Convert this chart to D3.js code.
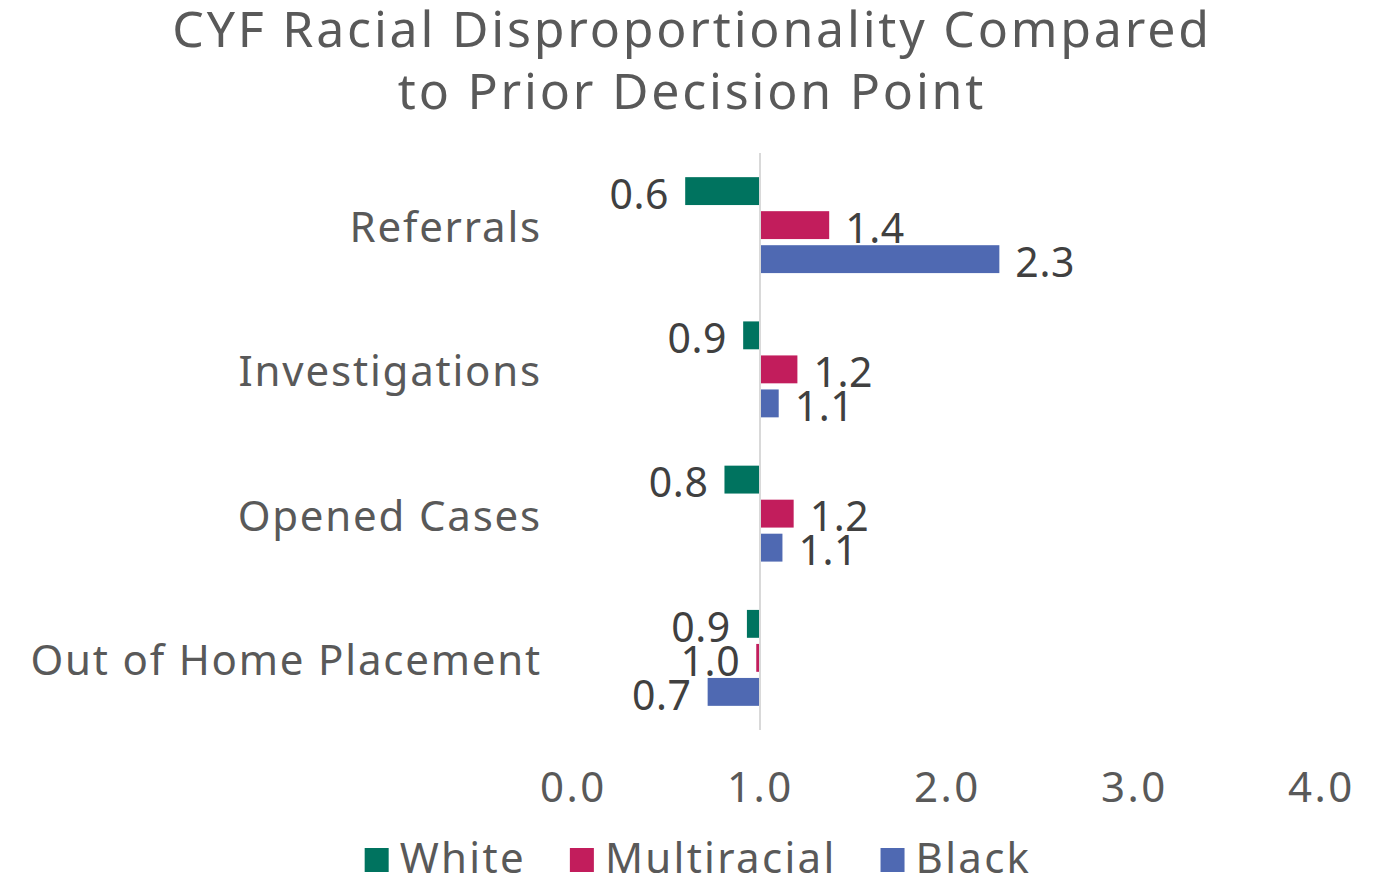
<!DOCTYPE html>
<html>
<head>
<meta charset="utf-8">
<script src="https://cdn.jsdelivr.net/npm/d3@7"></script>
<style>
  body { margin: 0; background: #fff; }
  text { font-family: "Noto Sans", sans-serif; }
</style>
</head>
<body>
<script>
const categories = ["Referrals", "Investigations", "Opened Cases", "Out of Home Placement"];
const series = ["White", "Multiracial", "Black"];
const white = [0.6, 0.91, 0.81, 0.93];
const multiracial = [1.37, 1.2, 1.18, 0.98];
const black = [2.28, 1.1, 1.12, 0.72];
const tickValues = [0, 1, 2, 3, 4];
const titleLines = ["CYF Racial Disproportionality Compared", "to Prior Decision Point"];
const colors = ["#00735f", "#c21d5c", "#4f69b2"];
const baseline = 1;

const width = 1383;
const height = 882;

const svg = d3
  .select("body")
  .append("svg")
  .attr("width", width)
  .attr("height", height);

const x = d3.scaleLinear().domain([0, 4]).range([573, 1321]);
const y0 = d3.scaleBand().domain(categories).range([153, 730]);
const y1 = d3
  .scaleBand()
  .domain(series)
  .range([0, y0.bandwidth()])
  .paddingInner(0.18)
  .paddingOuter(0.71);
const color = d3.scaleOrdinal().domain(series).range(colors);
const fmt = d3.format(".1f");

// title
svg
  .append("text")
  .attr("text-anchor", "middle")
  .attr("fill", "#595959")
  .attr("font-size", 50)
  .attr("letter-spacing", 2.8)
  .selectAll("tspan")
  .data(titleLines)
  .join("tspan")
  .attr("x", 692)
  .attr("y", (d, i) => 47 + i * 62)
  .text((d) => d);

// flatten rows
const rows = [];
categories.forEach((c, i) => {
  [white, multiracial, black].forEach((vals, j) => {
    rows.push({ cat: c, s: series[j], v: vals[i] });
  });
});

const groups = svg
  .append("g")
  .selectAll("g")
  .data(rows)
  .join("g")
  .attr("transform", (d) => `translate(0,${y0(d.cat) + y1(d.s)})`);

groups
  .append("rect")
  .attr("x", (d) => Math.min(x(baseline), x(d.v)))
  .attr("y", 0)
  .attr("width", (d) => Math.abs(x(d.v) - x(baseline)))
  .attr("height", y1.bandwidth())
  .attr("fill", (d) => color(d.s));

groups
  .append("text")
  .attr("x", (d) => (d.v < baseline ? x(d.v) - 16 : x(d.v) + 16))
  .attr("y", y1.bandwidth() / 2 + 3)
  .attr("dy", "0.36em")
  .attr("text-anchor", (d) => (d.v < baseline ? "end" : "start"))
  .attr("font-size", 41)
  .attr("letter-spacing", 0.6)
  .attr("fill", "#404040")
  .text((d) => fmt(d.v));

// baseline line
svg
  .append("line")
  .attr("x1", x(baseline))
  .attr("x2", x(baseline))
  .attr("y1", 153)
  .attr("y2", 730)
  .attr("stroke", "#d9d9d9")
  .attr("stroke-width", 2);

// category labels
svg
  .append("g")
  .selectAll("text")
  .data(categories)
  .join("text")
  .attr("x", 542)
  .attr("y", (d) => y0(d) + y0.bandwidth() / 2 + 2)
  .attr("dy", "0.36em")
  .attr("text-anchor", "end")
  .attr("font-size", 42)
  .attr("letter-spacing", 1.8)
  .attr("fill", "#595959")
  .text((d) => d);

// x axis
const axis = svg
  .append("g")
  .attr("transform", "translate(0,730)")
  .call(
    d3.axisBottom(x).tickValues(tickValues).tickFormat(fmt).tickSize(0).tickPadding(42)
  );
axis.select(".domain").remove();
axis
  .selectAll("text")
  .attr("font-family", "Noto Sans, sans-serif")
  .attr("font-size", 42)
  .attr("letter-spacing", 2.5)
  .attr("fill", "#595959");

// legend
const legend = svg.append("g");
const items = legend
  .selectAll("g")
  .data(series)
  .join("g");
items
  .append("rect")
  .attr("width", 24)
  .attr("height", 24)
  .attr("y", 848)
  .attr("fill", (d) => color(d));
items
  .append("text")
  .attr("x", 35)
  .attr("y", 873)
  .attr("font-size", 42)
  .attr("letter-spacing", 2.3)
  .attr("fill", "#595959")
  .text((d) => d);
let lx = 0;
const offsets = [];
items.each(function () {
  offsets.push(lx);
  lx += this.getBBox().width + 44;
});
const total = lx - 44;
const start = 698 - total / 2;
items.attr("transform", (d, i) => `translate(${start + offsets[i]},0)`);
</script>
</body>
</html>
